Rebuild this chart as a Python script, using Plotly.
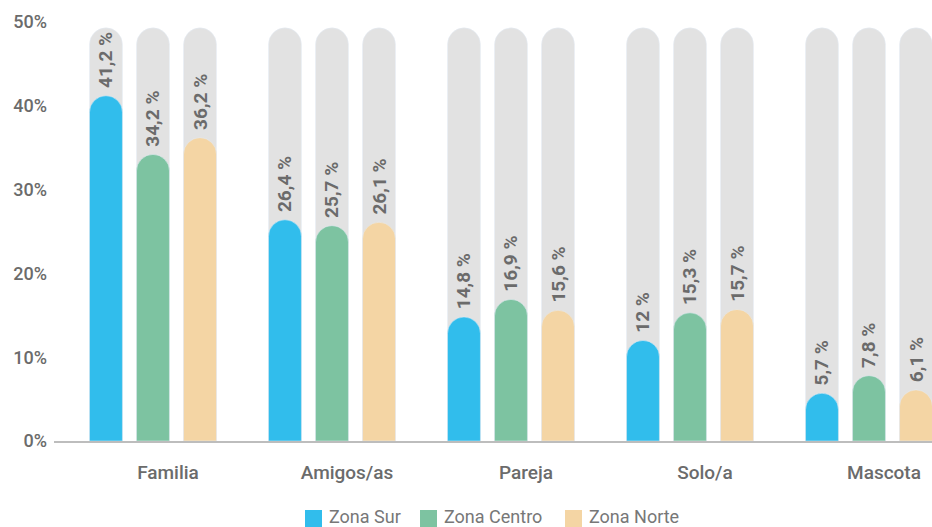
import plotly.graph_objects as go

categories = ["Familia", "Amigos/as", "Pareja", "Solo/a", "Mascota"]
series_names = ["Zona Sur", "Zona Centro", "Zona Norte"]
zona_sur = [41.2, 26.4, 14.8, 12, 5.7]
zona_centro = [34.2, 25.7, 16.9, 15.3, 7.8]
zona_norte = [36.2, 26.1, 15.6, 15.7, 6.1]
track_max = [49.3, 49.3, 49.3, 49.3, 49.3]
colors = ["#31BDEC", "#7DC3A1", "#F4D5A4"]
track_color = "#E2E2E2"
y_ticks = [0, 10, 20, 30, 40, 50]
y_ticktext = ["0%", "10%", "20%", "30%", "40%", "50%"]

series = [zona_sur, zona_centro, zona_norte]
x = list(range(len(categories)))
GREY = "#6B6B6B"

W, H = 932, 527
ML, MR, MT, MB = 54, 0, 22, 86

def fmt(v):
    s = ("%g" % v).replace(".", ",")
    return "\u00a0" + s + " %"

def px_x(p):
    return (p - ML) / (W - ML - MR)

def px_y(p):
    return (H - MB - p) / (H - MT - MB)

fig = go.Figure()
for j in range(3):
    fig.add_trace(go.Bar(
        x=x, y=track_max, xaxis="x", marker=dict(color=track_color, cornerradius="50%"),
        showlegend=False, hoverinfo="skip"))
for j, (name, vals) in enumerate(zip(series_names, series)):
    fig.add_trace(go.Bar(
        x=x, y=vals, name=name, xaxis="x2", showlegend=False,
        marker=dict(color=colors[j], cornerradius="50%"),
        text=[fmt(v) for v in vals], textposition="outside", textangle=-90,
        constraintext="none", cliponaxis=False,
        textfont=dict(family="Roboto", size=19, color=GREY, weight="bold")))

# custom legend (squares + labels) along the bottom edge
legend_left_px = [305, 420, 565]
for j, name in enumerate(series_names):
    x0 = legend_left_px[j]
    fig.add_shape(type="rect", xref="paper", yref="paper",
                  x0=px_x(x0), x1=px_x(x0 + 17), y0=px_y(527), y1=px_y(510),
                  fillcolor=colors[j], line=dict(width=0), layer="above")
    fig.add_annotation(xref="paper", yref="paper", x=px_x(x0 + 22), y=px_y(516),
                       xanchor="left", yanchor="middle", showarrow=False, text=name,
                       font=dict(family="Roboto", size=18, color="#777777"))

axis_common = dict(range=[-0.553, 4.352], showgrid=False, zeroline=False, automargin=False)
fig.update_layout(
    width=W, height=H,
    margin=dict(l=ML, r=MR, t=MT, b=MB),
    paper_bgcolor="white", plot_bgcolor="white",
    barmode="group", bargap=0.212, bargroupgap=0.3,
    showlegend=False,
    font=dict(family="Roboto", color=GREY),
    xaxis=dict(
        tickmode="array", tickvals=x, ticktext=categories,
        showline=True, linecolor="#BDBDBD", linewidth=1.5,
        ticks="", ticklabelshift=15, ticklabelstandoff=13,
        tickfont=dict(family="Roboto", size=19, color=GREY, weight=500), **axis_common),
    xaxis2=dict(overlaying="x", matches="x", visible=False, **axis_common),
    yaxis=dict(
        range=[0, 50], tickmode="array", tickvals=y_ticks, ticktext=y_ticktext,
        showgrid=False, zeroline=False, showline=False, ticks="", automargin=False,
        ticklabelstandoff=6,
        tickfont=dict(family="Roboto", size=18, color=GREY, weight=500)),
)

fig.write_html("out.html", config={"displayModeBar": False},
               post_script="document.body.style.margin='0';document.body.style.overflow='hidden';")
